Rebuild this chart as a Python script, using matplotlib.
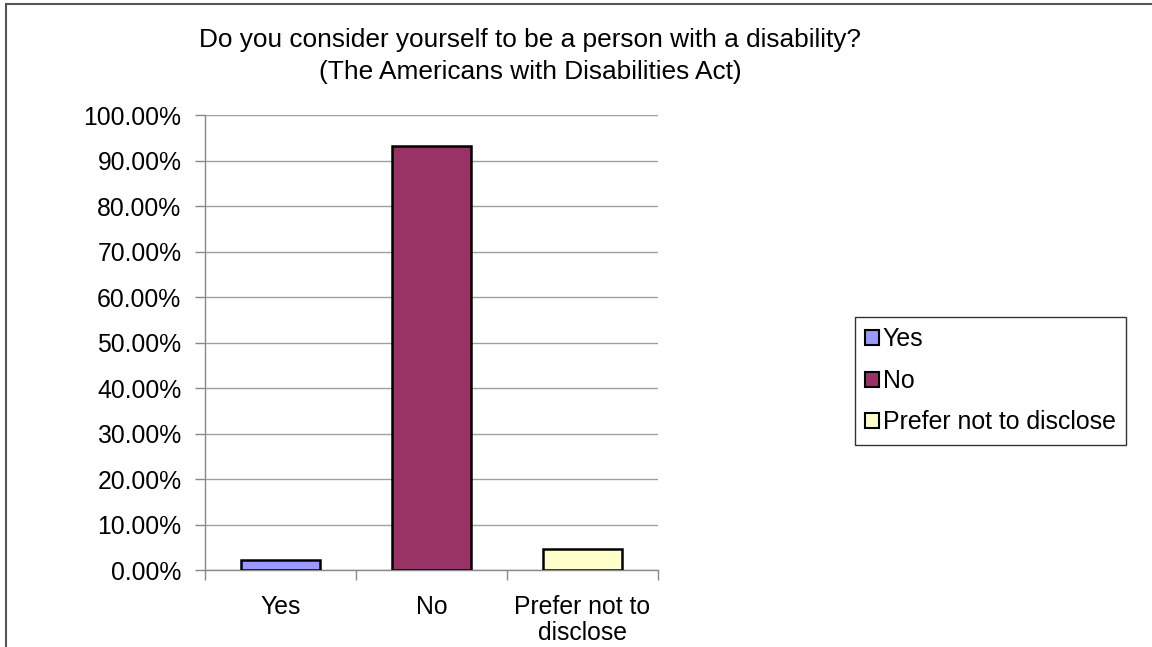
import matplotlib
matplotlib.use('Agg')
import matplotlib.pyplot as plt
from matplotlib.patches import Rectangle, Patch
from matplotlib.ticker import PercentFormatter

# data
categories = ['Yes', 'No', 'Prefer not to disclose']
tick_labels = ['Yes', 'No', 'Prefer not to\ndisclose']
shares = [0.0227, 0.9318, 0.0455]
bar_colors = ['#9999FF', '#993366', '#FFFFCC']

plt.rcParams['font.family'] = ['Liberation Sans', 'DejaVu Sans']

fig = plt.figure(figsize=(11.52, 6.47), dpi=100)
ax = fig.add_axes([0.178, 0.119, 0.393, 0.703])

# outer chart border (only the top and left edges are in the picture)
fig.add_artist(Rectangle((6 / 1152, -0.1), 1.2, 1 - 4 / 647 + 0.1,
                         transform=fig.transFigure, fill=False,
                         edgecolor='#555555', linewidth=1.5))

x = range(len(categories))
ax.bar(x, shares, width=0.52, color=bar_colors, edgecolor='black',
       linewidth=1.8, zorder=3)

ax.set_xlim(-0.5, 2.5)
ax.set_ylim(0, 1.0)
ax.set_yticks([i / 10 for i in range(11)])
ax.yaxis.set_major_formatter(PercentFormatter(1.0, decimals=2))
ax.grid(axis='y', color='#a0a0a0', linewidth=1, zorder=0)

ax.set_xticks([-0.5, 0.5, 1.5, 2.5])
ax.set_xticklabels([])
ax.set_xticks(list(x), minor=True)
ax.set_xticklabels(tick_labels, minor=True, fontsize=17.8, linespacing=1.1)
ax.tick_params(axis='x', which='minor', length=0, pad=18)
ax.tick_params(axis='x', which='major', length=7, color='#888888', width=1)
ax.tick_params(axis='y', labelsize=17.8, length=7, color='#888888', width=1, pad=10)

for side in ['top', 'right']:
    ax.spines[side].set_visible(False)
for side in ['left', 'bottom']:
    ax.spines[side].set_color('#888888')
    ax.spines[side].set_linewidth(1)

fig.text(0.46, 0.913, 'Do you consider yourself to be a person with a disability?\n(The Americans with Disabilities Act)',
         ha='center', va='center', fontsize=18.9, linespacing=1.4)

handles = [Patch(facecolor=c, edgecolor='black', linewidth=1.5) for c in bar_colors]
leg = fig.legend(handles, categories, loc='upper left', bbox_to_anchor=(855 / 1152, 1 - 317 / 647),
                 fontsize=17.9, frameon=True, fancybox=False, edgecolor='black',
                 handlelength=0.55, handleheight=0.55, handletextpad=0.15,
                 labelspacing=0.7, borderpad=0.42, borderaxespad=0)
leg.get_frame().set_linewidth(1)

fig.savefig('out.png', dpi=100)
